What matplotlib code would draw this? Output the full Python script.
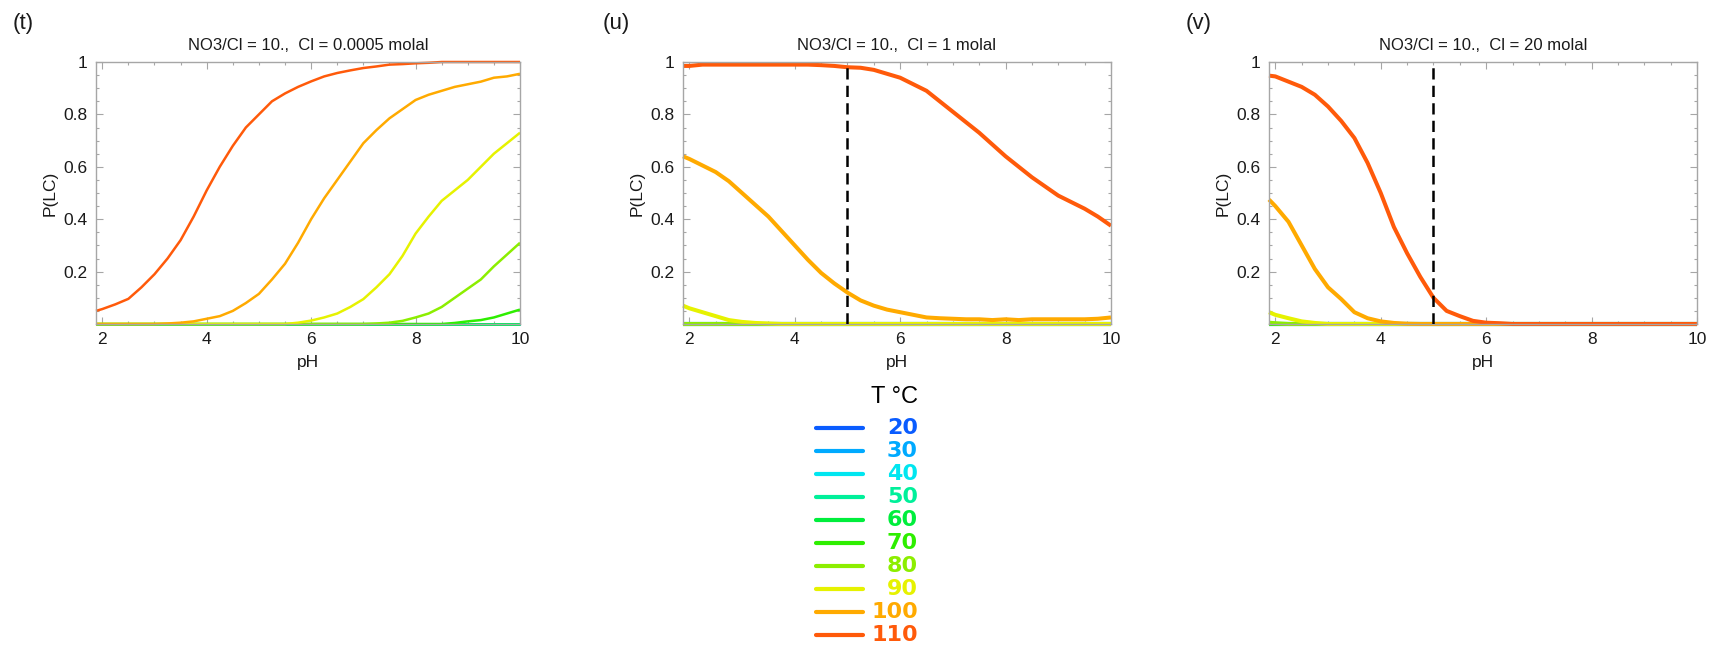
import matplotlib
matplotlib.use("Agg")
import matplotlib.pyplot as plt
from matplotlib.ticker import MultipleLocator, FixedLocator, FixedFormatter

plt.rcParams["font.family"] = ["Liberation Sans", "DejaVu Sans"]

# ---------------------------------------------------------------- data
ph = [1.88, 2.0, 2.25, 2.5, 2.75, 3.0, 3.25, 3.5, 3.75, 4.0, 4.25, 4.5, 4.75,
      5.0, 5.25, 5.5, 5.75, 6.0, 6.25, 6.5, 6.75, 7.0, 7.25, 7.5, 7.75, 8.0,
      8.25, 8.5, 8.75, 9.0, 9.25, 9.5, 9.75, 10.0]

temps = [20, 30, 40, 50, 60, 70, 80, 90, 100, 110]
temp_colors = ["#0a5cff", "#00aaff", "#00e6f0", "#00f09a", "#00ee3c",
               "#2eee00", "#8cee00", "#e6f200", "#ffaa00", "#ff5a0a"]

titles = ["NO3/Cl = 10.,  Cl = 0.0005 molal",
          "NO3/Cl = 10.,  Cl = 1 molal",
          "NO3/Cl = 10.,  Cl = 20 molal"]
panel_tags = ["(t)", "(u)", "(v)"]
threshold_ph = [None, 5.0, 5.0]

# panel (t): Cl = 0.0005 molal
t_cold = [0.0] * 34  # 20-60 C stay at zero
t_70 = [0.0] * 28 + [0.004, 0.01, 0.015, 0.025, 0.04, 0.055]
t_80 = [0.0] * 22 + [0.002, 0.005, 0.012, 0.025, 0.04, 0.065, 0.10, 0.135,
                     0.17, 0.22, 0.265, 0.31]
t_90 = [0.0] * 16 + [0.005, 0.013, 0.025, 0.04, 0.065, 0.095, 0.14, 0.19,
                     0.26, 0.345, 0.41, 0.47, 0.51, 0.55, 0.60, 0.65, 0.69,
                     0.73]
t_100 = [0.0] * 6 + [0.002, 0.005, 0.01, 0.02, 0.03, 0.05, 0.08, 0.115, 0.17,
                     0.23, 0.31, 0.40, 0.48, 0.55, 0.62, 0.69, 0.74, 0.785,
                     0.82, 0.855, 0.875, 0.89, 0.905, 0.915, 0.925, 0.94,
                     0.945, 0.955]
t_110 = [0.05, 0.057, 0.075, 0.096, 0.14, 0.19, 0.25, 0.32, 0.41, 0.51, 0.60,
         0.68, 0.75, 0.80, 0.85, 0.88, 0.905, 0.926, 0.945, 0.958, 0.968,
         0.977, 0.983, 0.99, 0.992, 0.995, 0.997, 1.0, 1.0, 1.0, 1.0, 1.0,
         1.0, 1.0]

# panel (u): Cl = 1 molal
u_cold = [0.0] * 34  # 20-80 C stay at zero
u_90 = [0.07, 0.06, 0.045, 0.03, 0.015, 0.008, 0.004, 0.002] + [0.0] * 26
u_100 = [0.64, 0.63, 0.605, 0.58, 0.545, 0.50, 0.455, 0.41, 0.355, 0.30,
         0.245, 0.195, 0.155, 0.12, 0.09, 0.07, 0.055, 0.045, 0.035, 0.025,
         0.022, 0.02, 0.018, 0.018, 0.015, 0.018, 0.015, 0.018, 0.018, 0.018,
         0.018, 0.018, 0.02, 0.025]
u_110 = [0.985, 0.985, 0.99, 0.99, 0.99, 0.99, 0.99, 0.99, 0.99, 0.99, 0.99,
         0.988, 0.985, 0.98, 0.978, 0.97, 0.955, 0.94, 0.915, 0.89, 0.85,
         0.81, 0.77, 0.73, 0.685, 0.64, 0.60, 0.56, 0.525, 0.49, 0.465, 0.44,
         0.41, 0.375]

# panel (v): Cl = 20 molal
v_cold = [0.0] * 34  # 20-70 C stay at zero
v_80 = [0.005, 0.003] + [0.0] * 32
v_90 = [0.045, 0.035, 0.022, 0.01, 0.004] + [0.0] * 29
v_100 = [0.475, 0.45, 0.39, 0.30, 0.21, 0.14, 0.095, 0.045, 0.022, 0.01,
         0.004, 0.001] + [0.0] * 22
v_110 = [0.948, 0.945, 0.925, 0.905, 0.875, 0.83, 0.775, 0.71, 0.615, 0.50,
         0.37, 0.27, 0.18, 0.10, 0.05, 0.03, 0.012, 0.005, 0.003] + [0.0] * 15

panel_t = [t_cold, t_cold, t_cold, t_cold, t_cold, t_70, t_80, t_90, t_100, t_110]
panel_u = [u_cold, u_cold, u_cold, u_cold, u_cold, u_cold, u_cold, u_90, u_100, u_110]
panel_v = [v_cold, v_cold, v_cold, v_cold, v_cold, v_cold, v_80, v_90, v_100, v_110]
panels = [panel_t, panel_u, panel_v]

# ---------------------------------------------------------------- layout
W, H = 1715, 650
fig = plt.figure(figsize=(W / 100, H / 100), dpi=100)


def box(x0, y0, x1, y1):
    return [x0 / W, 1 - y1 / H, (x1 - x0) / W, (y1 - y0) / H]


axes_px = [(96, 62, 520, 324), (683, 62, 1111, 324), (1269, 62, 1697, 324)]
tag_px = [23, 616, 1199]
line_widths = [1.8, 2.9, 2.9]
frame_color = "#a6a6a6"

for k, ax_box in enumerate(axes_px):
    ax = fig.add_axes(box(*ax_box))
    for temp, col, yv in zip(temps, temp_colors, panels[k]):
        ax.plot(ph, yv, color=col, lw=line_widths[k], solid_capstyle="butt",
                clip_on=False, zorder=2)
    if threshold_ph[k] is not None:
        ax.axvline(threshold_ph[k], color="black", lw=1.8,
                   linestyle=(0, (4.5, 2.5)), zorder=3)

    ax.set_xlim(1.88, 10)
    ax.set_ylim(0, 1)
    ax.xaxis.set_major_locator(FixedLocator([2, 4, 6, 8, 10]))
    ax.xaxis.set_minor_locator(MultipleLocator(0.5))
    ax.yaxis.set_major_locator(FixedLocator([0.2, 0.4, 0.6, 0.8, 1.0]))
    ax.yaxis.set_major_formatter(FixedFormatter(["0.2", "0.4", "0.6", "0.8", "1"]))
    ax.yaxis.set_minor_locator(MultipleLocator(0.05))
    ax.tick_params(which="both", direction="in", top=True, right=True,
                   color=frame_color, width=0.8, labelsize=12.5,
                   labelcolor="#1a1a1a", pad=6)
    ax.tick_params(which="major", length=5)
    ax.tick_params(which="minor", length=2.5)
    for sp in ax.spines.values():
        sp.set_color(frame_color)
        sp.set_linewidth(1.0)

    ax.set_xlabel("pH", fontsize=12.5, color="#1a1a1a")
    ax.xaxis.set_label_coords(0.5, -31 / 262)
    ax.set_ylabel("P(LC)", fontsize=12.5, color="#1a1a1a")
    ax.yaxis.set_label_coords(-38 / (ax_box[2] - ax_box[0]), 0.5)

    ax.text(0.5, 1 + 17 / 262, titles[k], transform=ax.transAxes,
            ha="center", va="center", fontsize=12, color="#1a1a1a")
    fig.text(tag_px[k] / W, 1 - 24 / H, panel_tags[k], ha="center",
             va="center", fontsize=16, color="#1a1a1a")

# ---------------------------------------------------------------- legend
leg = fig.add_axes([0, 0, 1, 1], facecolor="none")
leg.set_xlim(0, W)
leg.set_ylim(H, 0)
leg.axis("off")
leg.text(895, 397, "T °C", ha="center", va="center", fontsize=17,
         color="black")
row0, row_step = 428, 23
for i, (temp, col) in enumerate(zip(temps, temp_colors)):
    y = row0 + i * row_step
    leg.plot([816, 863], [y, y], color=col, lw=3.0, solid_capstyle="round")
    leg.text(918, y, str(temp), ha="right", va="center", fontsize=16,
             fontweight="bold", color=col, family=["DejaVu Sans"])

fig.savefig("out.png", dpi=100)
